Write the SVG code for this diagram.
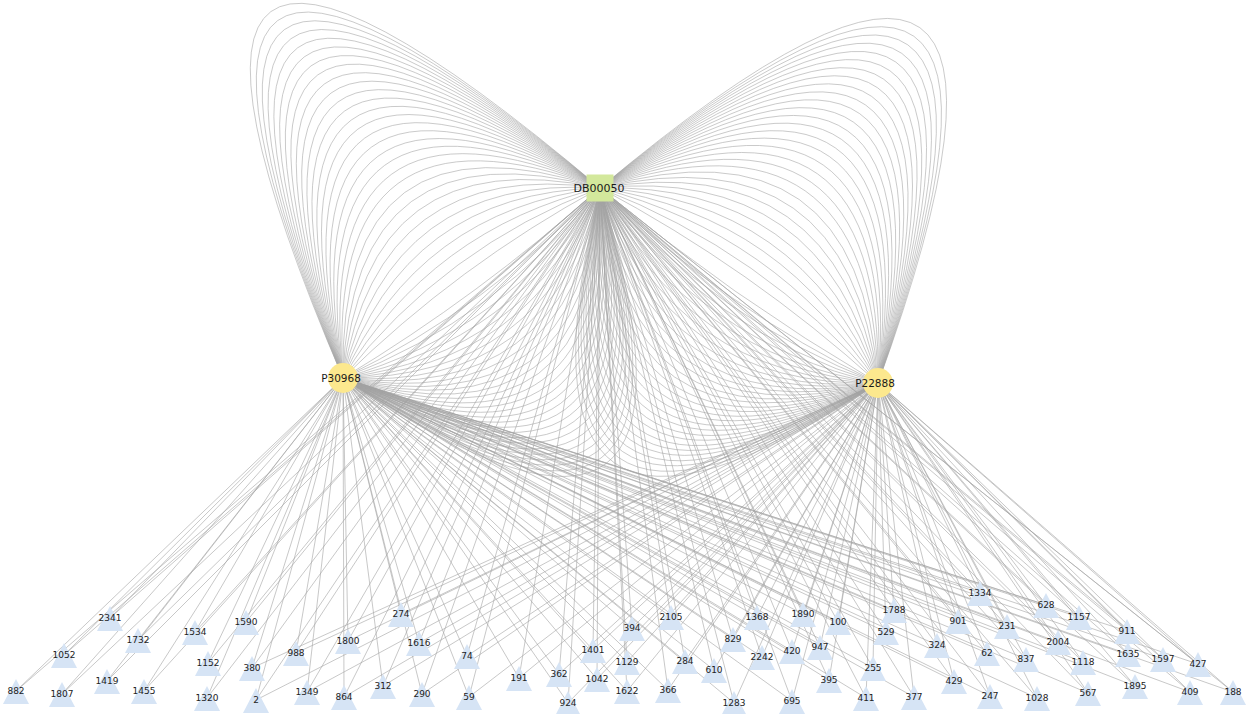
<svg xmlns="http://www.w3.org/2000/svg" width="1246" height="714" viewBox="0 0 1246 714">
<style>
.c{fill:none;stroke:#a6a6a6;stroke-width:0.6}
.e{fill:none;stroke:#a2a2a2;stroke-width:0.6}
.lb{font-family:"DejaVu Sans",Verdana,sans-serif;font-size:9px;fill:#222;text-anchor:middle}
.hl{font-family:"DejaVu Sans",Verdana,sans-serif;fill:#1a1a1a;text-anchor:middle}
.tri{fill:#d6e4f5}
</style>
<defs>
<path id="tri" d="M0,-12L13,13H-13Z"/>
</defs>
<rect width="1246" height="714" fill="#fff"/>
<g id="connectors">
<g id="lobe-left-outer" class="c">
<path d="M600 188Q458.1 264.9 343 378"/><path d="M600 188Q444.7 246.8 343 378"/><path d="M600 188Q431.4 228.7 343 378"/><path d="M600 188Q418 210.6 343 378"/><path d="M600 188Q404.6 192.5 343 378"/><path d="M600 188Q391.2 174.4 343 378"/><path d="M600 188Q377.9 156.4 343 378"/><path d="M600 188Q364.5 138.3 343 378"/><path d="M600 188Q351.1 120.2 343 378"/><path d="M600 188Q337.7 102.1 343 378"/><path d="M600 188Q324.4 84 343 378"/><path d="M600 188Q311 65.9 343 378"/><path d="M600 188Q297.6 47.8 343 378"/><path d="M600 188Q284.2 29.7 343 378"/><path d="M600 188Q270.9 11.6 343 378"/><path d="M600 188Q257.5 -6.5 343 378"/><path d="M600 188Q244.1 -24.6 343 378"/><path d="M600 188Q230.7 -42.7 343 378"/><path d="M600 188Q217.4 -60.7 343 378"/><path d="M600 188Q204 -78.8 343 378"/><path d="M600 188Q190.6 -96.9 343 378"/><path d="M600 188Q177.2 -115 343 378"/><path d="M600 188Q163.9 -133.1 343 378"/><path d="M600 188Q150.5 -151.2 343 378"/><path d="M600 188Q137.1 -169.3 343 378"/><path d="M600 188Q123.7 -187.4 343 378"/><path d="M600 188Q110.3 -205.5 343 378"/><path d="M600 188Q97 -223.6 343 378"/><path d="M600 188Q83.6 -241.7 343 378"/><path d="M600 188Q70.2 -259.8 343 378"/>
</g>
<g id="lobe-left-inner" class="c">
<path d="M600 188Q480.5 295 343 378"/><path d="M600 188Q489.5 307 343 378"/><path d="M600 188Q498.5 319 343 378"/><path d="M600 188Q507.5 331 343 378"/><path d="M600 188Q516.5 343 343 378"/><path d="M600 188Q525.5 355 343 378"/><path d="M600 188Q533.5 367 343 378"/><path d="M600 188Q542.5 379 343 378"/><path d="M600 188Q551.5 392 343 378"/><path d="M600 188Q560.5 404 343 378"/><path d="M600 188Q569.5 416 343 378"/><path d="M600 188Q578.5 428 343 378"/><path d="M600 188Q587.5 440 343 378"/><path d="M600 188Q596.5 452 343 378"/><path d="M600 188Q605.5 464 343 378"/><path d="M600 188Q614.5 476 343 378"/><path d="M600 188Q623.5 488 343 378"/><path d="M600 188Q632.5 500 343 378"/><path d="M600 188Q640.5 512 343 378"/><path d="M600 188Q649.5 524 343 378"/><path d="M600 188Q658.5 536 343 378"/><path d="M600 188Q667.5 548 343 378"/><path d="M600 188Q676.5 560 343 378"/><path d="M600 188Q685.5 572 343 378"/><path d="M600 188Q694.5 585 343 378"/><path d="M600 188Q703.5 597 343 378"/><path d="M600 188Q712.5 609 343 378"/><path d="M600 188Q721.5 621 343 378"/><path d="M600 188Q730.5 633 343 378"/><path d="M600 188Q739.5 645 343 378"/>
</g>
<g id="lobe-right-outer" class="c">
<path d="M600 188Q751.1 268.3 878 383"/><path d="M600 188Q763.1 251.1 878 383"/><path d="M600 188Q775.2 233.9 878 383"/><path d="M600 188Q787.2 216.7 878 383"/><path d="M600 188Q799.3 199.5 878 383"/><path d="M600 188Q811.3 182.4 878 383"/><path d="M600 188Q823.4 165.2 878 383"/><path d="M600 188Q835.5 148 878 383"/><path d="M600 188Q847.5 130.8 878 383"/><path d="M600 188Q859.6 113.6 878 383"/><path d="M600 188Q871.6 96.4 878 383"/><path d="M600 188Q883.7 79.2 878 383"/><path d="M600 188Q895.8 62 878 383"/><path d="M600 188Q907.8 44.8 878 383"/><path d="M600 188Q919.9 27.6 878 383"/><path d="M600 188Q931.9 10.4 878 383"/><path d="M600 188Q944 -6.7 878 383"/><path d="M600 188Q956 -23.9 878 383"/><path d="M600 188Q968.1 -41.1 878 383"/><path d="M600 188Q980.2 -58.3 878 383"/><path d="M600 188Q992.2 -75.5 878 383"/><path d="M600 188Q1004.3 -92.7 878 383"/><path d="M600 188Q1016.3 -109.9 878 383"/><path d="M600 188Q1028.4 -127.1 878 383"/><path d="M600 188Q1040.5 -144.3 878 383"/><path d="M600 188Q1052.5 -161.5 878 383"/><path d="M600 188Q1064.6 -178.7 878 383"/><path d="M600 188Q1076.6 -195.8 878 383"/><path d="M600 188Q1088.7 -213 878 383"/><path d="M600 188Q1100.7 -230.2 878 383"/>
</g>
<g id="lobe-right-inner" class="c">
<path d="M600 188Q731 296.5 878 383"/><path d="M600 188Q723 308.5 878 383"/><path d="M600 188Q715 319.5 878 383"/><path d="M600 188Q707 331.5 878 383"/><path d="M600 188Q699 342.5 878 383"/><path d="M600 188Q691 354.5 878 383"/><path d="M600 188Q683 365.5 878 383"/><path d="M600 188Q675 377.5 878 383"/><path d="M600 188Q667 388.5 878 383"/><path d="M600 188Q659 400.5 878 383"/><path d="M600 188Q651 411.5 878 383"/><path d="M600 188Q643 423.5 878 383"/><path d="M600 188Q634 434.5 878 383"/><path d="M600 188Q626 445.5 878 383"/><path d="M600 188Q618 457.5 878 383"/><path d="M600 188Q610 468.5 878 383"/><path d="M600 188Q602 480.5 878 383"/><path d="M600 188Q594 491.5 878 383"/><path d="M600 188Q586 503.5 878 383"/><path d="M600 188Q578 514.5 878 383"/><path d="M600 188Q570 526.5 878 383"/><path d="M600 188Q562 537.5 878 383"/><path d="M600 188Q554 549.5 878 383"/><path d="M600 188Q546 560.5 878 383"/><path d="M600 188Q538 572.5 878 383"/><path d="M600 188Q530 583.5 878 383"/><path d="M600 188Q522 594.5 878 383"/><path d="M600 188Q514 606.5 878 383"/><path d="M600 188Q506 617.5 878 383"/><path d="M600 188Q498 629.5 878 383"/><path d="M600 188Q490 640.5 878 383"/>
</g>
<g id="edges-DB00050" class="e">
<path d="M600 188L16 691"/><path d="M600 188L62 694"/><path d="M600 188L64 655"/><path d="M600 188L110 618"/><path d="M600 188L138 640"/><path d="M600 188L107 681"/><path d="M600 188L144 691"/><path d="M600 188L195 632"/><path d="M600 188L208 663"/><path d="M600 188L207 698"/><path d="M600 188L246 622"/><path d="M600 188L252 668"/><path d="M600 188L256 700"/><path d="M600 188L296 653"/><path d="M600 188L307 692"/><path d="M600 188L348 641"/><path d="M600 188L344 697"/><path d="M600 188L401 614"/><path d="M600 188L383 686"/><path d="M600 188L419 643"/><path d="M600 188L422 694"/><path d="M600 188L467 656"/><path d="M600 188L469 697"/><path d="M600 188L519 678"/><path d="M600 188L559 674"/><path d="M600 188L568 703"/><path d="M600 188L593 650"/><path d="M600 188L597 679"/><path d="M600 188L632 628"/><path d="M600 188L627 662"/><path d="M600 188L627 691"/><path d="M600 188L671 617"/><path d="M600 188L685 661"/><path d="M600 188L668 690"/><path d="M600 188L714 670"/><path d="M600 188L733 639"/><path d="M600 188L757 617"/><path d="M600 188L762 657"/><path d="M600 188L734 703"/><path d="M600 188L792 651"/><path d="M600 188L803 614"/><path d="M600 188L792 701"/><path d="M600 188L838 622"/><path d="M600 188L820 647"/><path d="M600 188L829 680"/><path d="M600 188L894 610"/><path d="M600 188L886 632"/><path d="M600 188L873 668"/><path d="M600 188L866 698"/><path d="M600 188L914 697"/><path d="M600 188L937 645"/><path d="M600 188L958 621"/><path d="M600 188L954 681"/><path d="M600 188L980 593"/><path d="M600 188L1007 626"/><path d="M600 188L987 653"/><path d="M600 188L990 696"/><path d="M600 188L1046 605"/><path d="M600 188L1079 617"/><path d="M600 188L1026 659"/><path d="M600 188L1058 642"/><path d="M600 188L1083 662"/><path d="M600 188L1037 698"/><path d="M600 188L1088 693"/><path d="M600 188L1127 631"/><path d="M600 188L1128 654"/><path d="M600 188L1163 659"/><path d="M600 188L1135 686"/><path d="M600 188L1198 664"/><path d="M600 188L1190 692"/><path d="M600 188L1233 692"/>
</g>
<g id="edges-P30968" class="e">
<path d="M343 378L16 691"/><path d="M343 378L62 694"/><path d="M343 378L64 655"/><path d="M343 378L110 618"/><path d="M343 378L138 640"/><path d="M343 378L107 681"/><path d="M343 378L144 691"/><path d="M343 378L195 632"/><path d="M343 378L208 663"/><path d="M343 378L207 698"/><path d="M343 378L246 622"/><path d="M343 378L252 668"/><path d="M343 378L256 700"/><path d="M343 378L296 653"/><path d="M343 378L307 692"/><path d="M343 378L348 641"/><path d="M343 378L344 697"/><path d="M343 378L401 614"/><path d="M343 378L383 686"/><path d="M343 378L419 643"/><path d="M343 378L422 694"/><path d="M343 378L467 656"/><path d="M343 378L469 697"/><path d="M343 378L519 678"/><path d="M343 378L559 674"/><path d="M343 378L568 703"/><path d="M343 378L593 650"/><path d="M343 378L597 679"/><path d="M343 378L632 628"/><path d="M343 378L627 662"/><path d="M343 378L627 691"/><path d="M343 378L671 617"/><path d="M343 378L685 661"/><path d="M343 378L668 690"/><path d="M343 378L714 670"/><path d="M343 378L733 639"/><path d="M343 378L757 617"/><path d="M343 378L762 657"/><path d="M343 378L734 703"/><path d="M343 378L792 651"/><path d="M343 378L803 614"/><path d="M343 378L792 701"/><path d="M343 378L838 622"/><path d="M343 378L820 647"/><path d="M343 378L829 680"/><path d="M343 378L894 610"/><path d="M343 378L886 632"/><path d="M343 378L873 668"/><path d="M343 378L866 698"/><path d="M343 378L914 697"/><path d="M343 378L937 645"/><path d="M343 378L958 621"/><path d="M343 378L954 681"/><path d="M343 378L980 593"/><path d="M343 378L1007 626"/><path d="M343 378L987 653"/><path d="M343 378L990 696"/><path d="M343 378L1046 605"/><path d="M343 378L1079 617"/><path d="M343 378L1026 659"/><path d="M343 378L1058 642"/><path d="M343 378L1083 662"/><path d="M343 378L1037 698"/><path d="M343 378L1088 693"/><path d="M343 378L1127 631"/><path d="M343 378L1128 654"/><path d="M343 378L1163 659"/><path d="M343 378L1135 686"/><path d="M343 378L1198 664"/><path d="M343 378L1190 692"/><path d="M343 378L1233 692"/>
</g>
<g id="edges-P22888" class="e">
<path d="M878 383L252 668"/><path d="M878 383L256 700"/><path d="M878 383L296 653"/><path d="M878 383L307 692"/><path d="M878 383L348 641"/><path d="M878 383L344 697"/><path d="M878 383L401 614"/><path d="M878 383L383 686"/><path d="M878 383L419 643"/><path d="M878 383L422 694"/><path d="M878 383L467 656"/><path d="M878 383L469 697"/><path d="M878 383L519 678"/><path d="M878 383L559 674"/><path d="M878 383L568 703"/><path d="M878 383L593 650"/><path d="M878 383L597 679"/><path d="M878 383L632 628"/><path d="M878 383L627 662"/><path d="M878 383L627 691"/><path d="M878 383L671 617"/><path d="M878 383L685 661"/><path d="M878 383L668 690"/><path d="M878 383L714 670"/><path d="M878 383L733 639"/><path d="M878 383L757 617"/><path d="M878 383L762 657"/><path d="M878 383L734 703"/><path d="M878 383L792 651"/><path d="M878 383L803 614"/><path d="M878 383L792 701"/><path d="M878 383L838 622"/><path d="M878 383L820 647"/><path d="M878 383L829 680"/><path d="M878 383L894 610"/><path d="M878 383L886 632"/><path d="M878 383L873 668"/><path d="M878 383L866 698"/><path d="M878 383L914 697"/><path d="M878 383L937 645"/><path d="M878 383L958 621"/><path d="M878 383L954 681"/><path d="M878 383L980 593"/><path d="M878 383L1007 626"/><path d="M878 383L987 653"/><path d="M878 383L990 696"/><path d="M878 383L1046 605"/><path d="M878 383L1079 617"/><path d="M878 383L1026 659"/><path d="M878 383L1058 642"/><path d="M878 383L1083 662"/><path d="M878 383L1037 698"/><path d="M878 383L1088 693"/><path d="M878 383L1127 631"/><path d="M878 383L1128 654"/><path d="M878 383L1163 659"/><path d="M878 383L1135 686"/><path d="M878 383L1198 664"/><path d="M878 383L1190 692"/><path d="M878 383L1233 692"/>
</g>
</g>
<g id="node-DB00050"><rect x="586.5" y="174.5" width="27" height="27" fill="#d3e89c"/><text class="hl" x="599" y="192" font-size="11">DB00050</text></g>
<g id="node-P30968"><circle cx="343" cy="378" r="15" fill="#fce88e"/><text class="hl" x="341" y="382" font-size="10.5">P30968</text></g>
<g id="node-P22888"><circle cx="878" cy="383" r="15" fill="#fce88e"/><text class="hl" x="875" y="387" font-size="10.5">P22888</text></g>
<g id="node-882" transform="translate(16,691)"><use href="#tri" class="tri"/><text class="lb" y="3.3">882</text></g>
<g id="node-1807" transform="translate(62,694)"><use href="#tri" class="tri"/><text class="lb" y="3.3">1807</text></g>
<g id="node-1052" transform="translate(64,655)"><use href="#tri" class="tri"/><text class="lb" y="3.3">1052</text></g>
<g id="node-2341" transform="translate(110,618)"><use href="#tri" class="tri"/><text class="lb" y="3.3">2341</text></g>
<g id="node-1732" transform="translate(138,640)"><use href="#tri" class="tri"/><text class="lb" y="3.3">1732</text></g>
<g id="node-1419" transform="translate(107,681)"><use href="#tri" class="tri"/><text class="lb" y="3.3">1419</text></g>
<g id="node-1455" transform="translate(144,691)"><use href="#tri" class="tri"/><text class="lb" y="3.3">1455</text></g>
<g id="node-1534" transform="translate(195,632)"><use href="#tri" class="tri"/><text class="lb" y="3.3">1534</text></g>
<g id="node-1152" transform="translate(208,663)"><use href="#tri" class="tri"/><text class="lb" y="3.3">1152</text></g>
<g id="node-1320" transform="translate(207,698)"><use href="#tri" class="tri"/><text class="lb" y="3.3">1320</text></g>
<g id="node-1590" transform="translate(246,622)"><use href="#tri" class="tri"/><text class="lb" y="3.3">1590</text></g>
<g id="node-380" transform="translate(252,668)"><use href="#tri" class="tri"/><text class="lb" y="3.3">380</text></g>
<g id="node-2" transform="translate(256,700)"><use href="#tri" class="tri"/><text class="lb" y="3.3">2</text></g>
<g id="node-988" transform="translate(296,653)"><use href="#tri" class="tri"/><text class="lb" y="3.3">988</text></g>
<g id="node-1349" transform="translate(307,692)"><use href="#tri" class="tri"/><text class="lb" y="3.3">1349</text></g>
<g id="node-1800" transform="translate(348,641)"><use href="#tri" class="tri"/><text class="lb" y="3.3">1800</text></g>
<g id="node-864" transform="translate(344,697)"><use href="#tri" class="tri"/><text class="lb" y="3.3">864</text></g>
<g id="node-274" transform="translate(401,614)"><use href="#tri" class="tri"/><text class="lb" y="3.3">274</text></g>
<g id="node-312" transform="translate(383,686)"><use href="#tri" class="tri"/><text class="lb" y="3.3">312</text></g>
<g id="node-1616" transform="translate(419,643)"><use href="#tri" class="tri"/><text class="lb" y="3.3">1616</text></g>
<g id="node-290" transform="translate(422,694)"><use href="#tri" class="tri"/><text class="lb" y="3.3">290</text></g>
<g id="node-74" transform="translate(467,656)"><use href="#tri" class="tri"/><text class="lb" y="3.3">74</text></g>
<g id="node-59" transform="translate(469,697)"><use href="#tri" class="tri"/><text class="lb" y="3.3">59</text></g>
<g id="node-191" transform="translate(519,678)"><use href="#tri" class="tri"/><text class="lb" y="3.3">191</text></g>
<g id="node-362" transform="translate(559,674)"><use href="#tri" class="tri"/><text class="lb" y="3.3">362</text></g>
<g id="node-924" transform="translate(568,703)"><use href="#tri" class="tri"/><text class="lb" y="3.3">924</text></g>
<g id="node-1401" transform="translate(593,650)"><use href="#tri" class="tri"/><text class="lb" y="3.3">1401</text></g>
<g id="node-1042" transform="translate(597,679)"><use href="#tri" class="tri"/><text class="lb" y="3.3">1042</text></g>
<g id="node-394" transform="translate(632,628)"><use href="#tri" class="tri"/><text class="lb" y="3.3">394</text></g>
<g id="node-1129" transform="translate(627,662)"><use href="#tri" class="tri"/><text class="lb" y="3.3">1129</text></g>
<g id="node-1622" transform="translate(627,691)"><use href="#tri" class="tri"/><text class="lb" y="3.3">1622</text></g>
<g id="node-2105" transform="translate(671,617)"><use href="#tri" class="tri"/><text class="lb" y="3.3">2105</text></g>
<g id="node-284" transform="translate(685,661)"><use href="#tri" class="tri"/><text class="lb" y="3.3">284</text></g>
<g id="node-366" transform="translate(668,690)"><use href="#tri" class="tri"/><text class="lb" y="3.3">366</text></g>
<g id="node-610" transform="translate(714,670)"><use href="#tri" class="tri"/><text class="lb" y="3.3">610</text></g>
<g id="node-829" transform="translate(733,639)"><use href="#tri" class="tri"/><text class="lb" y="3.3">829</text></g>
<g id="node-1368" transform="translate(757,617)"><use href="#tri" class="tri"/><text class="lb" y="3.3">1368</text></g>
<g id="node-2242" transform="translate(762,657)"><use href="#tri" class="tri"/><text class="lb" y="3.3">2242</text></g>
<g id="node-1283" transform="translate(734,703)"><use href="#tri" class="tri"/><text class="lb" y="3.3">1283</text></g>
<g id="node-420" transform="translate(792,651)"><use href="#tri" class="tri"/><text class="lb" y="3.3">420</text></g>
<g id="node-1890" transform="translate(803,614)"><use href="#tri" class="tri"/><text class="lb" y="3.3">1890</text></g>
<g id="node-695" transform="translate(792,701)"><use href="#tri" class="tri"/><text class="lb" y="3.3">695</text></g>
<g id="node-100" transform="translate(838,622)"><use href="#tri" class="tri"/><text class="lb" y="3.3">100</text></g>
<g id="node-947" transform="translate(820,647)"><use href="#tri" class="tri"/><text class="lb" y="3.3">947</text></g>
<g id="node-395" transform="translate(829,680)"><use href="#tri" class="tri"/><text class="lb" y="3.3">395</text></g>
<g id="node-1788" transform="translate(894,610)"><use href="#tri" class="tri"/><text class="lb" y="3.3">1788</text></g>
<g id="node-529" transform="translate(886,632)"><use href="#tri" class="tri"/><text class="lb" y="3.3">529</text></g>
<g id="node-255" transform="translate(873,668)"><use href="#tri" class="tri"/><text class="lb" y="3.3">255</text></g>
<g id="node-411" transform="translate(866,698)"><use href="#tri" class="tri"/><text class="lb" y="3.3">411</text></g>
<g id="node-377" transform="translate(914,697)"><use href="#tri" class="tri"/><text class="lb" y="3.3">377</text></g>
<g id="node-324" transform="translate(937,645)"><use href="#tri" class="tri"/><text class="lb" y="3.3">324</text></g>
<g id="node-901" transform="translate(958,621)"><use href="#tri" class="tri"/><text class="lb" y="3.3">901</text></g>
<g id="node-429" transform="translate(954,681)"><use href="#tri" class="tri"/><text class="lb" y="3.3">429</text></g>
<g id="node-1334" transform="translate(980,593)"><use href="#tri" class="tri"/><text class="lb" y="3.3">1334</text></g>
<g id="node-231" transform="translate(1007,626)"><use href="#tri" class="tri"/><text class="lb" y="3.3">231</text></g>
<g id="node-62" transform="translate(987,653)"><use href="#tri" class="tri"/><text class="lb" y="3.3">62</text></g>
<g id="node-247" transform="translate(990,696)"><use href="#tri" class="tri"/><text class="lb" y="3.3">247</text></g>
<g id="node-628" transform="translate(1046,605)"><use href="#tri" class="tri"/><text class="lb" y="3.3">628</text></g>
<g id="node-1157" transform="translate(1079,617)"><use href="#tri" class="tri"/><text class="lb" y="3.3">1157</text></g>
<g id="node-837" transform="translate(1026,659)"><use href="#tri" class="tri"/><text class="lb" y="3.3">837</text></g>
<g id="node-2004" transform="translate(1058,642)"><use href="#tri" class="tri"/><text class="lb" y="3.3">2004</text></g>
<g id="node-1118" transform="translate(1083,662)"><use href="#tri" class="tri"/><text class="lb" y="3.3">1118</text></g>
<g id="node-1028" transform="translate(1037,698)"><use href="#tri" class="tri"/><text class="lb" y="3.3">1028</text></g>
<g id="node-567" transform="translate(1088,693)"><use href="#tri" class="tri"/><text class="lb" y="3.3">567</text></g>
<g id="node-911" transform="translate(1127,631)"><use href="#tri" class="tri"/><text class="lb" y="3.3">911</text></g>
<g id="node-1635" transform="translate(1128,654)"><use href="#tri" class="tri"/><text class="lb" y="3.3">1635</text></g>
<g id="node-1597" transform="translate(1163,659)"><use href="#tri" class="tri"/><text class="lb" y="3.3">1597</text></g>
<g id="node-1895" transform="translate(1135,686)"><use href="#tri" class="tri"/><text class="lb" y="3.3">1895</text></g>
<g id="node-427" transform="translate(1198,664)"><use href="#tri" class="tri"/><text class="lb" y="3.3">427</text></g>
<g id="node-409" transform="translate(1190,692)"><use href="#tri" class="tri"/><text class="lb" y="3.3">409</text></g>
<g id="node-188" transform="translate(1233,692)"><use href="#tri" class="tri"/><text class="lb" y="3.3">188</text></g>
</svg>
